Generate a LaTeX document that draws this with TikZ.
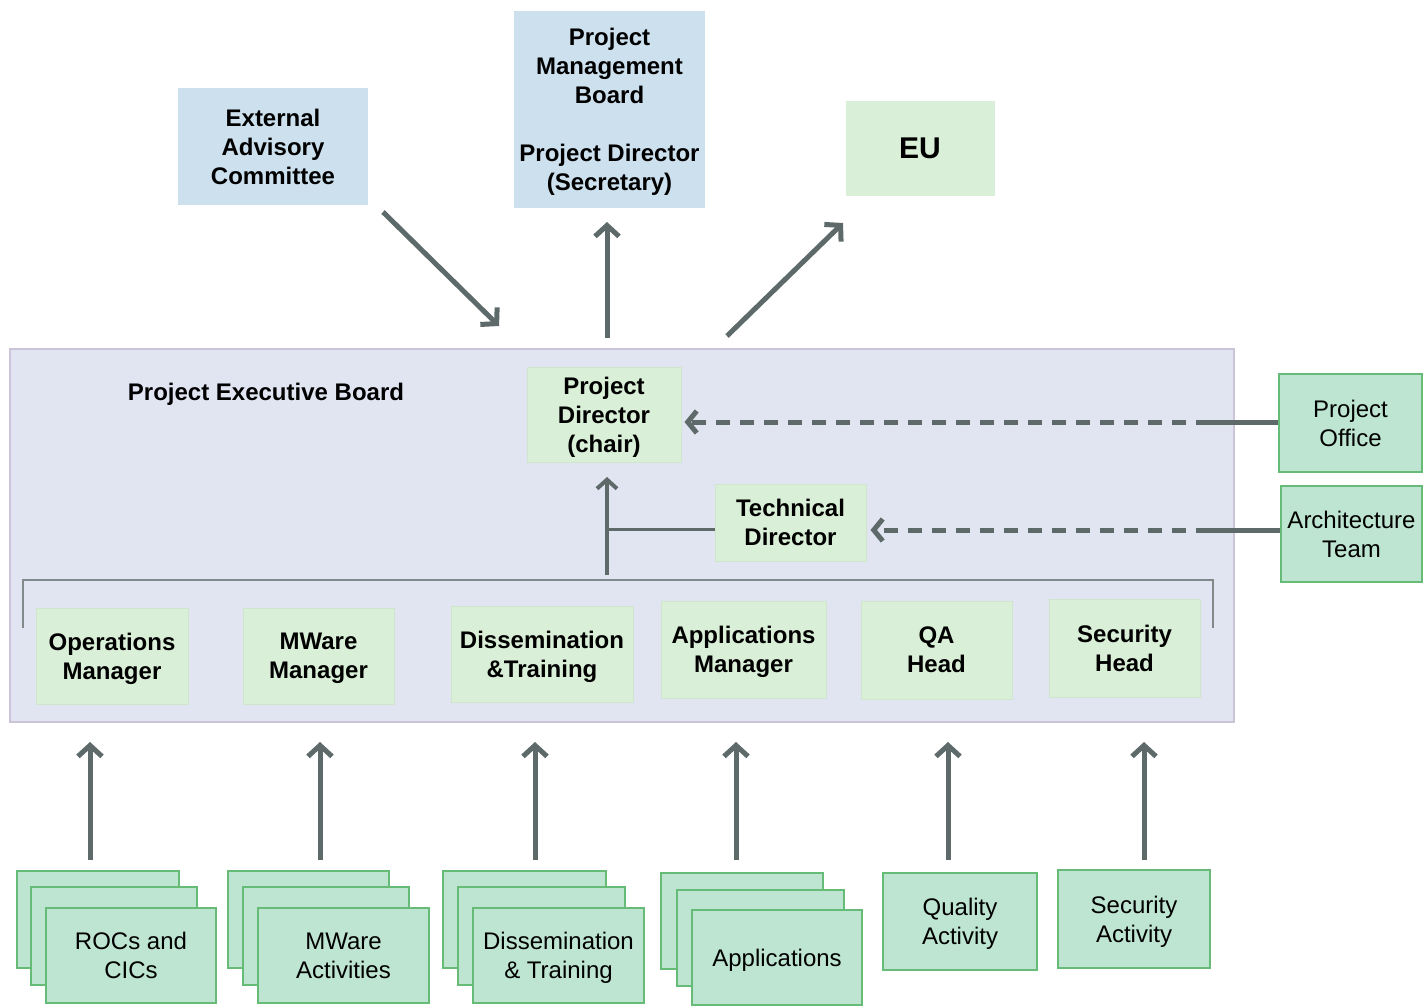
\documentclass[tikz,border=0pt]{standalone}
\usepackage{fontspec}
\setmainfont{Liberation Sans}
\usetikzlibrary{arrows.meta}
\definecolor{bluefill}{HTML}{CDE0EE}
\definecolor{greenlt}{HTML}{DAEFD7}
\definecolor{greenltdraw}{HTML}{CFE5CC}
\definecolor{mint}{HTML}{BEE5D1}
\definecolor{mintdraw}{HTML}{66BB77}
\definecolor{pebfill}{HTML}{E1E5F1}
\definecolor{pebdraw}{HTML}{CDC3D9}
\definecolor{arr}{HTML}{5E6A6A}
\definecolor{brk}{HTML}{808A8A}
\tikzset{
  box/.style={inner sep=0pt, align=center, text depth=0pt, font=\fontsize{24}{29}\selectfont\bfseries},
  bluebox/.style={box, fill=bluefill},
  lgbox/.style={box, fill=greenlt, draw=greenltdraw, line width=1pt},
  act/.style={inner sep=0pt, align=center, text depth=0pt, font=\fontsize{24}{29}\selectfont, fill=mint, draw=mintdraw, line width=1.5pt},
  conn/.style={draw=arr, line width=5pt, line join=round, -{Straight Barb[length=11pt,width=24pt,line width=5pt]}},
  thinconn/.style={draw=arr, line width=4pt, -{Straight Barb[length=9pt,width=20pt,line width=4pt]}},
  dashconn/.style={draw=arr, line width=5pt, dash pattern=on 14pt off 10pt, -{Straight Barb[length=9pt,width=22pt,line width=5pt]}},
}
\begin{document}
\begin{tikzpicture}[x=1pt,y=-1pt]
\useasboundingbox[fill=white] (0,0) rectangle (1423,1006);
% top boxes
\node[bluebox, minimum width=190, minimum height=117] (eac) at (273,146.5) {External\\Advisory\\Committee};
\node[bluebox, minimum width=191, minimum height=197] (pmb) at (609.5,109.5) {Project\\Management\\Board\\[29pt]Project Director\\(Secretary)};
\node[box, fill=greenlt, minimum width=149, minimum height=95, font=\fontsize{30}{36}\selectfont\bfseries] (eu) at (920,148.5) {EU};
% executive board
\node[draw=pebdraw, fill=pebfill, line width=1.5pt, minimum width=1224, minimum height=373, inner sep=0pt] (peb) at (622,535.5) {};
\node[box] (pebl) at (266,392) {Project Executive Board};
\node[lgbox, minimum width=154, minimum height=95] (pd) at (604,414.5) {Project\\Director\\(chair)};
\node[lgbox, minimum width=151, minimum height=77] (td) at (790.5,522.5) {Technical\\Director};
% right boxes
\node[act, minimum width=143, minimum height=98] (po) at (1350.5,423) {Project\\Office};
\node[act, minimum width=141, minimum height=96] (at) at (1351.5,534) {Architecture\\Team};
% bracket
\draw[brk, line width=2pt] (23,628) -- (23,580) -- (1213,580) -- (1213,628);
% managers
\node[lgbox, minimum width=152, minimum height=96] (om) at (112,656) {Operations\\Manager};
\node[lgbox, minimum width=151, minimum height=96] (mm) at (318.5,656) {MWare\\Manager};
\node[lgbox, minimum width=182, minimum height=96] (dm) at (542,654) {Dissemination\\\&Training};
\node[lgbox, minimum width=165, minimum height=97] (am) at (743.5,649.5) {Applications\\Manager};
\node[lgbox, minimum width=151, minimum height=98] (qa) at (936.5,650) {QA\\Head};
\node[lgbox, minimum width=151, minimum height=98] (sh) at (1124.5,648) {Security\\Head};
% activity stacks
\node[act, minimum width=162, minimum height=97] (rocs1) at (98,919.5) {};
\node[act, minimum width=166, minimum height=98] (rocs2) at (114,936) {};
\node[act, minimum width=170, minimum height=95] (rocs) at (131,955.5) {ROCs and\\CICs};
\node[act, minimum width=161, minimum height=97] (mwa1) at (308.5,919.5) {};
\node[act, minimum width=166, minimum height=98] (mwa2) at (326,936) {};
\node[act, minimum width=171, minimum height=95] (mwa) at (343.5,955.5) {MWare\\Activities};
\node[act, minimum width=163, minimum height=97] (dis1) at (524.5,919.5) {};
\node[act, minimum width=167, minimum height=98] (dis2) at (541.5,936) {};
\node[act, minimum width=171, minimum height=95] (dis) at (558.5,955.5) {Dissemination\\\& Training};
\node[act, minimum width=162, minimum height=96] (app1) at (742,921) {};
\node[act, minimum width=167, minimum height=96] (app2) at (760.5,938) {};
\node[act, minimum width=170, minimum height=95] (app) at (777,957.5) {Applications};
\node[act, minimum width=154, minimum height=97] (qac) at (960,921.5) {Quality\\Activity};
\node[act, minimum width=152, minimum height=98] (sac) at (1134,919) {Security\\Activity};
% connector end points
\coordinate (e1) at (383,212); \coordinate (e2) at (499,326);
\coordinate (p1) at (607,338); \coordinate (p2) at (607,222);
\coordinate (u1) at (727,336); \coordinate (u2) at (843,223);
\coordinate (i1) at (607,575); \coordinate (i2) at (607,477);
\coordinate (tj) at (607,529);
\coordinate (poj) at (1210,422); \coordinate (atj) at (1210,530);
% top arrows
\draw[conn] (e1) -- (e2);
\draw[conn] (p1) -- (p2);
\draw[conn] (u1) -- (u2);
% inside arrows
\draw[thinconn] (i1) -- (i2);
\draw[arr, line width=3pt] (tj) -- (tj -| td.west);
\draw[arr, line width=5pt] (poj -| po.west) -- (poj);
\draw[dashconn, shorten >=3pt] (poj) -- (poj -| pd.east);
\draw[arr, line width=5pt] (atj -| at.west) -- (atj);
\draw[dashconn, shorten >=4pt] (atj) -- (atj -| td.east);
% bottom arrows
\foreach \x/\n in {90/rocs1, 320/mwa1, 535/dis1, 736/app1, 948/qac, 1144/sac}{
  \coordinate (s\n) at (\x,860);
  \coordinate (t\n) at (\x,742);
  \draw[conn] (s\n) -- (t\n);
}
\end{tikzpicture}
\end{document}
